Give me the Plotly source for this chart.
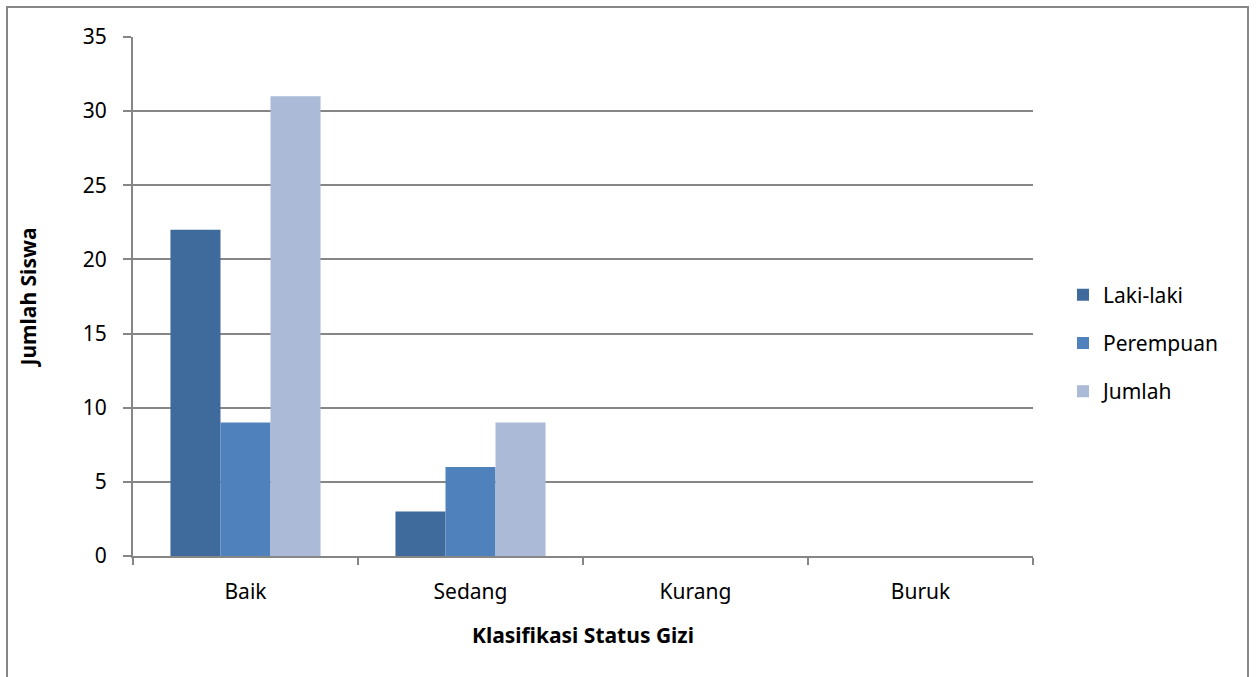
import plotly.graph_objects as go

categories = ["Baik", "Sedang", "Kurang", "Buruk"]
laki = [22, 3, 0, 0]
perempuan = [9, 6, 0, 0]
jumlah = [31, 9, 0, 0]
series_names = ["Laki-laki", "Perempuan", "Jumlah"]
colors = ["#3F6A9C", "#4F81BD", "#AABAD7"]

fig = go.Figure()
for i, (name, vals) in enumerate(zip(series_names, [laki, perempuan, jumlah])):
    fig.add_trace(go.Bar(
        x=categories, y=vals, name=name, legendgroup=name,
        marker=dict(color=colors[i], line=dict(width=0)),
    ))

FONT = "Noto Sans, Open Sans, Arial, sans-serif"
L, R, T, B = 133, 225, 37, 121
W, H = 1258, 677
pw, ph = W - L - R, H - T - B

def px(x):
    return (x - L) / pw

def py(y):
    return (H - B - y) / ph

fig.update_layout(
    width=W, height=H,
    margin=dict(l=L, r=R, t=T, b=B),
    paper_bgcolor="white", plot_bgcolor="white",
    barmode="group", bargap=0.333, bargroupgap=0,
    font=dict(family=FONT, size=21, color="black"),
    showlegend=True,
    legend=dict(x=px(1063), y=py(343), xanchor="left", yanchor="middle",
                font=dict(size=21, family=FONT), tracegroupgap=18,
                itemwidth=30, traceorder="grouped", bgcolor="rgba(0,0,0,0)"),
    xaxis=dict(
        showline=True, linecolor="#868686", linewidth=2,
        ticks="outside", tickson="boundaries", ticklen=7, tickcolor="#868686", tickwidth=2,
        showgrid=False,
        tickfont=dict(size=21), ticklabelstandoff=16,
        title=dict(text="<b>Klasifikasi Status Gizi</b>", font=dict(size=21), standoff=24),
    ),
    yaxis=dict(
        range=[0, 35], dtick=5, tick0=0,
        showline=True, linecolor="#868686", linewidth=2,
        ticks="outside", ticklen=8, tickcolor="#868686", tickwidth=2,
        showgrid=True, gridcolor="#868686", gridwidth=1.5,
        zeroline=False,
        tickfont=dict(size=21), ticklabelstandoff=12,
        title=dict(text="<b>Jumlah Siswa</b>", font=dict(size=21), standoff=40),
    ),
    shapes=[dict(type="rect", xref="paper", yref="paper",
                 x0=px(7), x1=px(1248), y0=py(700), y1=py(7),
                 line=dict(color="#868686", width=2), layer="below")],
)

fig.write_html("out.html")
